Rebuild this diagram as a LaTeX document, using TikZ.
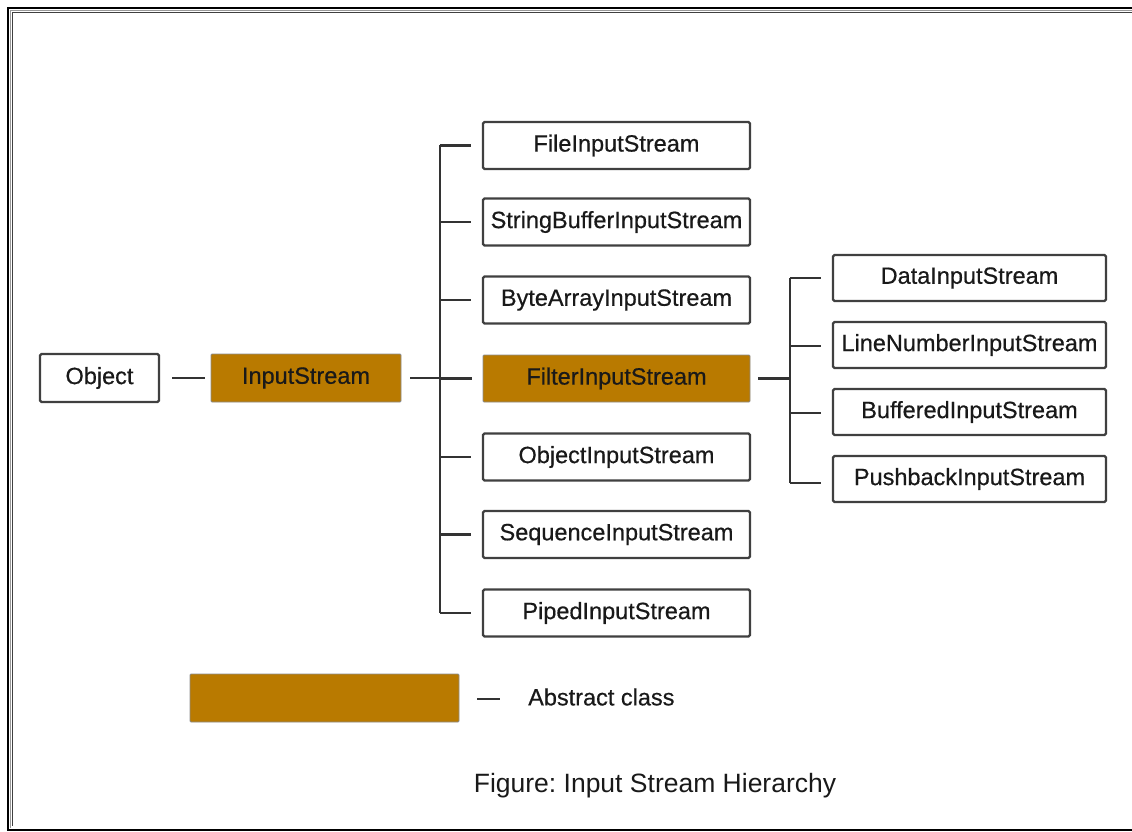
\documentclass[tikz,border=0pt]{standalone}
\usepackage{fontspec}
\setmainfont{Liberation Sans}
\newfontfamily\boxfont[FakeBold=0.5]{Liberation Sans}
\frenchspacing
\begin{document}
\begin{tikzpicture}[x=1pt,y=-1pt,
  lbl/.style={font=\boxfont\fontsize{23.5}{26}\selectfont,text=black!90},
  box/.style={lbl,draw=black!75,line width=2.2pt,rounded corners=1.5pt,fill=white,inner sep=0pt},
  absbox/.style={lbl,draw=black!45,line width=0.8pt,rounded corners=1pt,fill=absfill,inner sep=0pt},
  colbox/.style={minimum width=267pt,minimum height=47pt},
  rbox/.style={minimum width=273pt,minimum height=46pt},
  link/.style={draw=black!80,line width=2.3pt}]
\definecolor{absfill}{RGB}{185,122,0}
\useasboundingbox (0,0) rectangle (1132,832);
% frame
\draw[black,line width=2pt] (1132,8) -- (8,8) -- (8,830) -- (1132,830);
\draw[black!40,line width=1.5pt] (1132,10.5) -- (10.5,10.5) -- (10.5,827.5);
\draw[black!75,line width=1.5pt] (1132,12.5) -- (12.5,12.5) -- (12.5,826);
% nodes
\node[box,minimum width=119pt,minimum height=48pt] (obj) at (99.5,378) {Object};
\node[absbox,minimum width=190pt,minimum height=48pt] (ins) at (306,378) {InputStream};
\node[box,colbox] (f1) at (616.5,145.5) {FileInputStream};
\node[box,colbox] (f2) at (616.5,222) {StringBufferInputStream};
\node[box,colbox] (f3) at (616.5,300) {ByteArrayInputStream};
\node[absbox,colbox] (f4) at (616.5,378.5) {FilterInputStream};
\node[box,colbox] (f5) at (616.5,457) {ObjectInputStream};
\node[box,colbox] (f6) at (616.5,534.5) {SequenceInputStream};
\node[box,colbox] (f7) at (616.5,613) {PipedInputStream};
\node[box,rbox] (r1) at (969.5,278) {DataInputStream};
\node[box,rbox] (r2) at (969.5,345) {LineNumberInputStream};
\node[box,rbox] (r3) at (969.5,412) {BufferedInputStream};
\node[box,rbox] (r4) at (969.5,479) {PushbackInputStream};
\node[absbox,minimum width=269pt,minimum height=48pt] (leg) at (324.5,698) {};
\node[lbl,anchor=west,inner sep=0pt] (legt) at (528,697) {Abstract class};
\node[inner sep=0pt,font=\fontsize{26.5}{30}\selectfont,text=black!90] (cap) at (655,786) {Figure: Input Stream Hierarchy};
% trunks
\coordinate (ta) at (440,0);
\coordinate (tb) at (790,0);
% connectors
\draw[link] ([xshift=12pt]obj.east) -- ([xshift=-6pt]ins.west);
\draw[link] ([xshift=9pt]ins.east) -- (ins.east -| ta);
\draw[link] (f1.west -| ta) -- (f7.west -| ta);
\foreach \n in {f1,f2,f3,f4,f5,f6,f7}{
  \draw[link] (\n.west -| ta) -- ([xshift=-11pt]\n.west);
}
\draw[link] ([xshift=8pt]f4.east) -- (f4.east -| tb);
\draw[link] (r1.west -| tb) -- ([yshift=-4pt]r4.west -| tb);
\draw[link] (r1.west -| tb) -- ([xshift=-11pt]r1.west);
\draw[link] ([yshift=-1pt]r2.west -| tb) -- ([xshift=-11pt,yshift=-1pt]r2.west);
\draw[link] ([yshift=-1pt]r3.west -| tb) -- ([xshift=-11pt,yshift=-1pt]r3.west);
\draw[link] ([yshift=-4pt]r4.west -| tb) -- ([xshift=-11pt,yshift=-4pt]r4.west);
\draw[link,line width=2pt] ([xshift=18pt,yshift=-1pt]leg.east) -- ([xshift=41pt,yshift=-1pt]leg.east);
\end{tikzpicture}
\end{document}
